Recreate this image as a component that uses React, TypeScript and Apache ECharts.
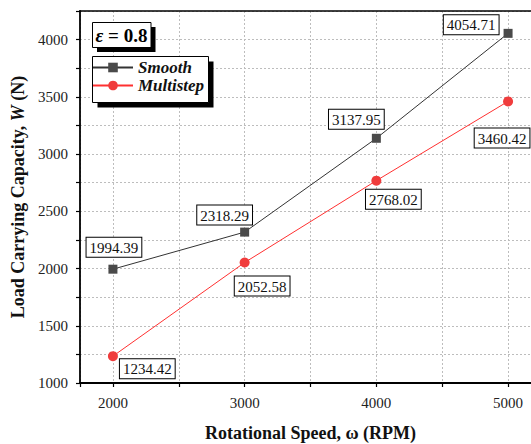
import React, { useEffect, useRef } from "react";
import * as echarts from "echarts";

const speeds = [2000, 3000, 4000, 5000];
const smoothValues = [1994.39, 2318.29, 3137.95, 4054.71];
const multistepValues = [1234.42, 2052.58, 2768.02, 3460.42];
const seriesNames = ["Smooth", "Multistep"];

const smoothLabelLayout = [
  { position: "top", distance: 8, offset: [1, 0] },
  { position: "top", distance: 3, offset: [-20, 0] },
  { position: "top", distance: 5, offset: [-20, 0] },
  { position: "left", distance: 5, offset: [0, -8.5] },
];
const multistepLabelLayout = [
  { position: "right", distance: 2, offset: [0, 12.5] },
  { position: "bottom", distance: 9, offset: [17.5, 0] },
  { position: "bottom", distance: 4, offset: [17, 0] },
  { position: "bottom", distance: 22, offset: [-6, 0] },
];

const FONT = "Liberation Serif";

const labelBox = {
  show: true,
  fontFamily: FONT,
  fontSize: 15,
  color: "#111",
  backgroundColor: "#fff",
  borderColor: "#000",
  borderWidth: 1,
  padding: [3, 3, 1, 3],
  formatter: (p: any) => Number(p.value[1]).toFixed(2),
};

function buildData(values: number[], layout: any[]) {
  return speeds.map((s, i) => ({
    value: [s, values[i]],
    label: { ...layout[i] },
  }));
}

export default function App() {
  const ref = useRef<HTMLDivElement>(null);
  useEffect(() => {
    if (!ref.current) return;
    const chart = echarts.init(ref.current, null, { renderer: "svg" });
    const gridLine = { show: true, lineStyle: { color: "#bdbdbd", type: [2, 2], width: 1 } };
    chart.setOption({
      animation: false,
      backgroundColor: "#fff",
      grid: { left: 80, top: 11, width: 461, height: 372, containLabel: false, outerBoundsMode: "none" },
      xAxis: [
        {
          type: "value",
          min: 1750,
          max: 5250,
          splitNumber: 7,
          name: "Rotational Speed, ω (RPM)",
          nameLocation: "middle",
          nameGap: 41,
          nameTextStyle: {
            fontFamily: FONT,
            fontWeight: "bold",
            fontSize: 18,
            color: "#111",
            verticalAlign: "top",
          },
          axisLine: { show: true, onZero: false, lineStyle: { color: "#000", width: 1.8 } },
          axisTick: { show: true, inside: false, length: 4, lineStyle: { color: "#000", width: 1.2 } },
          axisLabel: {
            fontFamily: FONT,
            fontSize: 15,
            color: "#222",
            margin: 12,
            formatter: (v: number) => (v % 1000 === 0 ? String(v) : ""),
          },
          splitLine: gridLine,
        },
        {
          type: "value",
          position: "top",
          min: 1750,
          max: 5250,
          axisLine: { show: true, onZero: false, lineStyle: { color: "#000", width: 1.5 } },
          axisTick: { show: false },
          axisLabel: { show: false },
          splitLine: { show: false },
        },
      ],
      yAxis: {
        type: "value",
        min: 1000,
        max: 4250,
        interval: 250,
        name: "{a|Load Carrying Capacity, }{i|W}{a| (N)}",
        nameLocation: "middle",
        nameGap: 47,
        nameTextStyle: {
          rich: {
            a: { fontFamily: FONT, fontWeight: "bold", fontSize: 18, color: "#111" },
            i: { fontFamily: FONT, fontWeight: "bold", fontStyle: "italic", fontSize: 18, color: "#111" },
          },
        },
        axisLine: { show: true, lineStyle: { color: "#000", width: 1.8 } },
        axisTick: { show: true, inside: false, length: 4, lineStyle: { color: "#000", width: 1.2 } },
        axisLabel: {
          fontFamily: FONT,
          fontSize: 15,
          color: "#222",
          margin: 12,
          formatter: (v: number) => (v % 500 === 0 && v <= 4000 ? String(v) : ""),
        },
        splitLine: gridLine,
      },
      legend: {
        data: seriesNames,
        orient: "vertical",
        left: 92,
        top: 59,
        itemWidth: 40,
        itemHeight: 12,
        itemGap: 1,
        padding: 0,
        z: 20,
        textStyle: {
          fontFamily: FONT,
          fontWeight: "bold",
          fontStyle: "italic",
          fontSize: 17,
          color: "#111",
        },
      },
      graphic: [
        { type: "rect", z: 10, shape: { x: 97, y: 27, width: 58.5, height: 25 }, style: { fill: "#000" } },
        { type: "rect", z: 11, shape: { x: 92.5, y: 22.5, width: 58.5, height: 25 }, style: { fill: "#fff", stroke: "#000", lineWidth: 1 } },
        {
          type: "text",
          z: 12,
          x: 121.5,
          y: 35.5,
          style: {
            text: "{i|ε}{b| = 0.8}",
            align: "center",
            verticalAlign: "middle",
            rich: {
              i: { fontFamily: FONT, fontStyle: "italic", fontWeight: "bold", fontSize: 19, fill: "#000" },
              b: { fontFamily: FONT, fontWeight: "bold", fontSize: 19, fill: "#000" },
            },
          },
        },
        { type: "rect", z: 10, shape: { x: 97.5, y: 61.5, width: 116, height: 46 }, style: { fill: "#000" } },
        { type: "rect", z: 11, shape: { x: 92.5, y: 56.5, width: 116, height: 46 }, style: { fill: "#fff", stroke: "#000", lineWidth: 1 } },
      ],
      series: [
        {
          name: seriesNames[0],
          type: "line",
          data: buildData(smoothValues, smoothLabelLayout),
          symbol: "rect",
          symbolSize: 9,
          itemStyle: { color: "#4a4a4a" },
          lineStyle: { color: "#333", width: 1 },
          label: labelBox,
          z: 5,
        },
        {
          name: seriesNames[1],
          type: "line",
          data: buildData(multistepValues, multistepLabelLayout),
          symbol: "circle",
          symbolSize: 10,
          itemStyle: { color: "#f03c3c" },
          lineStyle: { color: "#ff3030", width: 1 },
          label: labelBox,
          z: 5,
        },
      ],
    });
    return () => chart.dispose();
  }, []);
  return <div ref={ref} style={{ width: 531, height: 444, position: "absolute", left: 0, top: 0 }} />;
}
